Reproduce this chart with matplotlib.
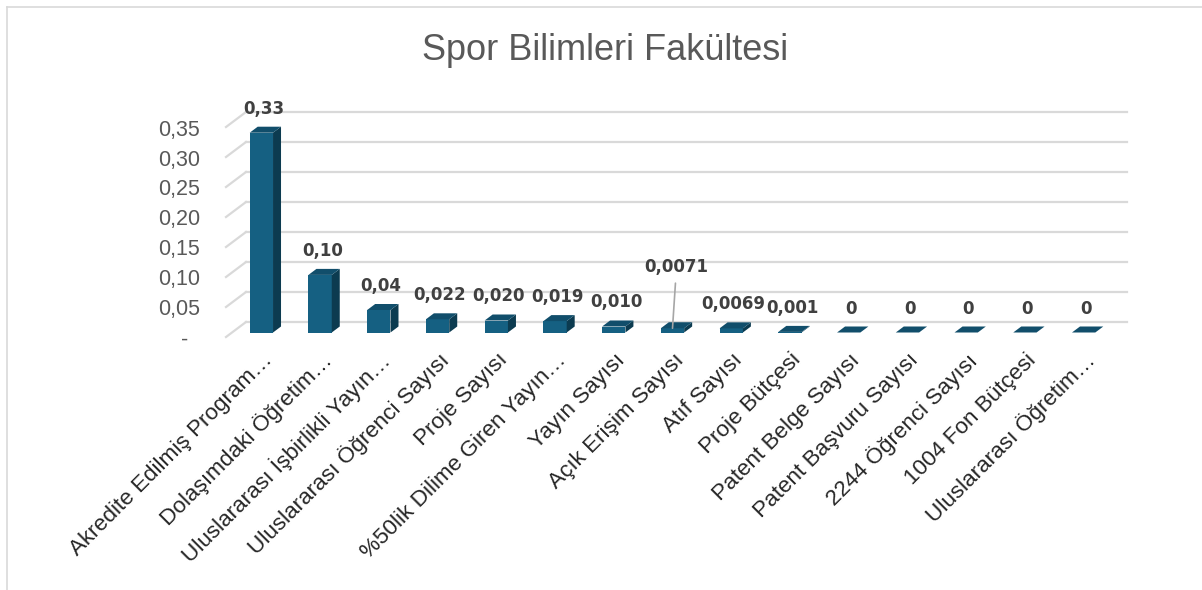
import numpy as np
import matplotlib.pyplot as plt
from matplotlib.patches import Polygon
from matplotlib.lines import Line2D

categories = ["Akredite Edilmiş Program…", "Dolaşımdaki Öğretim…",
              "Uluslararası İşbirlikli Yayın…", "Uluslararası Öğrenci Sayısı",
              "Proje Sayısı", "%50lik Dilime Giren Yayın…", "Yayın Sayısı",
              "Açık Erişim Sayısı", "Atıf Sayısı", "Proje Bütçesi",
              "Patent Belge Sayısı", "Patent Başvuru Sayısı",
              "2244 Öğrenci Sayısı", "1004 Fon Bütçesi", "Uluslararası Öğretim…"]
values = [0.333, 0.096, 0.0375, 0.022, 0.020, 0.019, 0.010, 0.0071, 0.0069,
          0.001, 0, 0, 0, 0, 0]
value_labels = ["0,33", "0,10", "0,04", "0,022", "0,020", "0,019", "0,010",
                "0,0071", "0,0069", "0,001", "0", "0", "0", "0", "0"]
y_ticks = [0, 0.05, 0.10, 0.15, 0.20, 0.25, 0.30, 0.35]
y_tick_labels = ["-  ", "0,05", "0,10", "0,15", "0,20", "0,25", "0,30", "0,35"]
title = "Spor Bilimleri Fakültesi"

W, H = 1202, 590
fig = plt.figure(figsize=(W/100, H/100), dpi=100)
ax = fig.add_axes([226/W, (H-337)/H, 901/W, 237/H])

dx, dy = 0.3405, 0.025      # depth of the 3d box (category / value units)
f0, f1 = 0.3, 0.7           # bar front/back inside the depth
w = 0.397
front_c, side_c, top_c = "#156082", "#0c3b50", "#114e6b"
grid_c = "#d9d9d9"

n = len(categories)
ax.set_xlim(-0.5, n - 0.5 + dx)
ax.set_ylim(0, 237/600)
ax.axis("off")

# back wall gridlines + side wall diagonals + value axis labels
for t, lab in zip(y_ticks, y_tick_labels):
    ax.plot([-0.5 + dx, n - 0.5 + dx], [t + dy, t + dy], color=grid_c, lw=1.6, clip_on=False, zorder=1)
    ax.plot([-0.5, -0.5 + dx], [t, t + dy], color=grid_c, lw=1.6, clip_on=False, zorder=1)
    ax.text(-0.5 - 26/58.73, t - 3/600, lab, ha="right", va="center",
            fontsize=15.5, color="#595959", family="Liberation Sans")

for i, v in enumerate(values):
    x0 = i - w/2 + f0*dx
    x1 = x0 + w
    y0 = f0*dy
    y1 = v + f0*dy
    ddx = (f1 - f0)*dx
    ddy = (f1 - f0)*dy
    if v > 0:
        ax.add_patch(Polygon([(x0, y0), (x1, y0), (x1, y1), (x0, y1)], closed=True,
                             fc=front_c, ec="none", zorder=3, clip_on=False))
        ax.add_patch(Polygon([(x1, y0), (x1+ddx, y0+ddy), (x1+ddx, y1+ddy), (x1, y1)], closed=True,
                             fc=side_c, ec="none", zorder=3, clip_on=False))
    ax.add_patch(Polygon([(x0, y1), (x1, y1), (x1+ddx, y1+ddy), (x0+ddx, y1+ddy)], closed=True,
                         fc=top_c, ec="none", zorder=3, clip_on=False))

    if value_labels[i] == "0,0071":
        ax.annotate(value_labels[i], xy=(i + f0*dx, y1), xytext=(4, 61),
                    textcoords="offset pixels", ha="center", va="center",
                    fontsize=12, fontweight="bold", color="#404040",
                    arrowprops=dict(arrowstyle="-", color="#a6a6a6", lw=1.2,
                                    shrinkA=3, shrinkB=0), zorder=5)
    else:
        ax.annotate(value_labels[i], xy=(i + 0.14, y1 + ddy), xytext=(0, 18),
                    textcoords="offset pixels", ha="center", va="center",
                    fontsize=12, fontweight="bold", color="#404040", zorder=5)

    ax.text(i + 0.24, -20/600, categories[i], rotation=45, rotation_mode="anchor",
            ha="right", va="center", fontsize=16.2, color="#262626",
            family="Liberation Sans", clip_on=False)

fig.text(605/W, 1 - 50/H, title, ha="center", va="center", fontsize=26,
         color="#595959", family="Liberation Sans")

# chart frame (only left and top edges visible)
fig.add_artist(Line2D([7/W, 7/W], [0, 1 - 7/H], color=grid_c, lw=1.2, transform=fig.transFigure))
fig.add_artist(Line2D([7/W, 1], [1 - 7/H, 1 - 7/H], color=grid_c, lw=1.2, transform=fig.transFigure))

fig.savefig("out.png", dpi=100)
